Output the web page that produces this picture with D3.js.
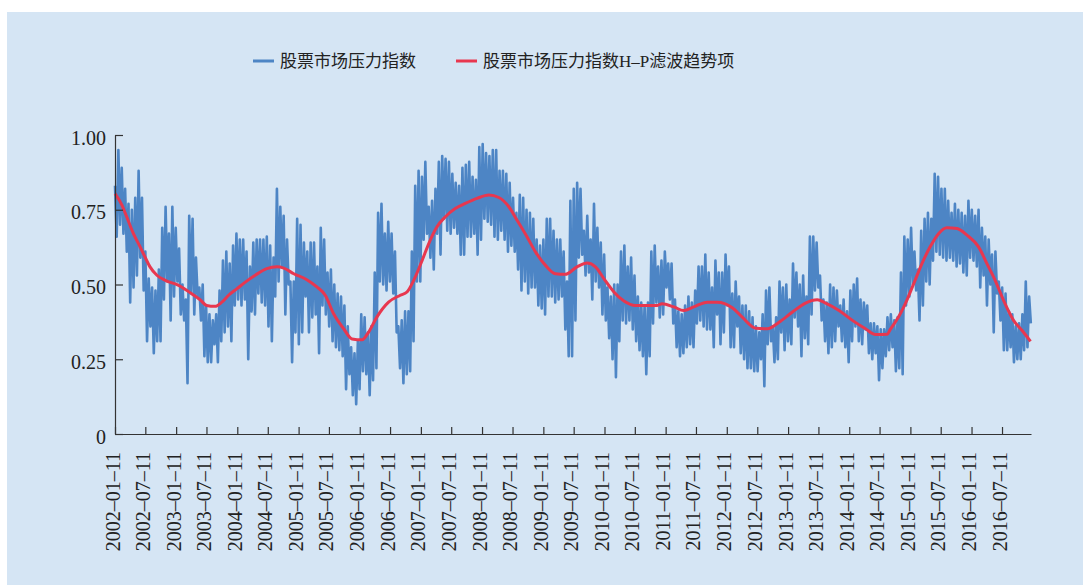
<!DOCTYPE html>
<html>
<head>
<meta charset="utf-8">
<script src="https://cdn.jsdelivr.net/npm/d3@7/dist/d3.min.js"></script>
<style>
  html, body { margin: 0; padding: 0; background: #ffffff; }
  svg { display: block; }
  .axis text { font-family: "Liberation Serif", "Times New Roman", serif; font-size: 20px; fill: #222; }
  .axis path, .axis line { stroke: #333; stroke-width: 1.2; }
  .legend text { font-family: "Liberation Serif", "Noto Sans CJK SC", serif; font-size: 17px; fill: #222; }
</style>
</head>
<body>
<svg id="chart" width="1083" height="585"></svg>
<script>
// Stock market stress index: alternating local highs / lows of the daily series
const seriesStart = "2002-01-11";
const seriesEnd = "2016-12-30";
const stressIndex = [
  0.83,0.66, 0.95,0.70, 0.89,0.67, 0.82,0.61, 0.77,0.44, 0.75,0.49, 0.79,0.53, 0.88,0.59, 0.79,0.48, 0.61,0.31,
  0.52,0.36, 0.49,0.27, 0.48,0.31, 0.55,0.31, 0.69,0.45, 0.76,0.51, 0.67,0.38, 0.76,0.46, 0.69,0.51, 0.62,0.40,
  0.50,0.38, 0.45,0.17, 0.73,0.47, 0.72,0.40, 0.59,0.46, 0.49,0.38, 0.50,0.26, 0.43,0.24, 0.40,0.24, 0.38,0.30,
  0.40,0.24, 0.48,0.31, 0.58,0.34, 0.61,0.36, 0.57,0.31, 0.63,0.43, 0.67,0.45, 0.65,0.43, 0.65,0.45, 0.61,0.25,
  0.56,0.41, 0.64,0.40, 0.65,0.47, 0.65,0.44,
  0.65,0.43, 0.66,0.36, 0.63,0.31, 0.59,0.46, 0.82,0.51, 0.76,0.56, 0.73,0.40, 0.65,0.50, 0.51,0.24, 0.51,0.34,
  0.72,0.30, 0.70,0.34, 0.64,0.46, 0.61,0.34, 0.64,0.39, 0.64,0.40, 0.56,0.27, 0.69,0.43, 0.65,0.40, 0.54,0.36,
  0.55,0.31, 0.50,0.29, 0.47,0.28, 0.46,0.26, 0.43,0.15, 0.36,0.20, 0.29,0.13, 0.27,0.10, 0.31,0.15, 0.40,0.21,
  0.39,0.20, 0.34,0.13, 0.36,0.18, 0.54,0.22, 0.74,0.51, 0.77,0.50, 0.67,0.48, 0.71,0.51, 0.67,0.47, 0.61,0.34,
  0.36,0.22, 0.38,0.17, 0.41,0.20, 0.41,0.21, 0.61,0.31, 0.83,0.51,
  0.88,0.51, 0.86,0.65, 0.91,0.67, 0.76,0.59, 0.78,0.55, 0.82,0.67, 0.91,0.60, 0.93,0.72, 0.92,0.68, 0.91,0.67,
  0.87,0.69, 0.84,0.67, 0.83,0.60, 0.89,0.60, 0.90,0.66, 0.91,0.66, 0.86,0.67, 0.85,0.60, 0.96,0.65, 0.97,0.72,
  0.94,0.71, 0.93,0.70, 0.95,0.66, 0.95,0.65, 0.88,0.68, 0.88,0.65, 0.87,0.61, 0.84,0.63, 0.79,0.61, 0.74,0.55,
  0.80,0.48, 0.79,0.51, 0.75,0.47, 0.74,0.49, 0.72,0.49, 0.65,0.43, 0.63,0.42, 0.65,0.40, 0.72,0.46, 0.72,0.46,
  0.68,0.44, 0.65,0.45, 0.65,0.46, 0.61,0.35, 0.51,0.26, 0.78,0.26,
  0.82,0.38, 0.84,0.59, 0.82,0.60, 0.68,0.53, 0.73,0.54, 0.65,0.45, 0.77,0.51, 0.69,0.49, 0.64,0.40, 0.60,0.38,
  0.49,0.32, 0.46,0.25, 0.50,0.19, 0.50,0.31, 0.61,0.38, 0.63,0.37, 0.56,0.38, 0.59,0.35, 0.53,0.31, 0.46,0.28,
  0.44,0.26, 0.43,0.20, 0.44,0.26, 0.61,0.37, 0.63,0.44, 0.56,0.39, 0.58,0.40, 0.61,0.49, 0.57,0.45, 0.57,0.37,
  0.45,0.29, 0.41,0.26, 0.40,0.27, 0.43,0.29, 0.46,0.30, 0.44,0.29, 0.48,0.37, 0.56,0.38, 0.56,0.36, 0.60,0.35,
  0.54,0.35, 0.49,0.29, 0.58,0.40, 0.54,0.30, 0.54,0.34, 0.60,0.43,
  0.56,0.29, 0.47,0.29, 0.51,0.36, 0.46,0.27, 0.43,0.25, 0.43,0.22, 0.41,0.22, 0.39,0.21, 0.36,0.21, 0.34,0.25,
  0.40,0.16, 0.48,0.30, 0.49,0.31, 0.36,0.24, 0.39,0.25, 0.51,0.34, 0.49,0.28, 0.50,0.31, 0.45,0.30, 0.57,0.39,
  0.54,0.36, 0.50,0.26, 0.53,0.32, 0.46,0.30, 0.66,0.40, 0.66,0.48, 0.64,0.49, 0.53,0.38, 0.45,0.31, 0.44,0.27,
  0.50,0.29, 0.49,0.31, 0.48,0.36, 0.43,0.31, 0.45,0.29, 0.41,0.24, 0.48,0.31, 0.50,0.36, 0.52,0.31, 0.45,0.30,
  0.44,0.35, 0.43,0.27, 0.37,0.25, 0.37,0.27, 0.36,0.18, 0.35,0.22,
  0.35,0.26, 0.39,0.28, 0.40,0.29, 0.38,0.21, 0.39,0.22, 0.54,0.20, 0.66,0.43, 0.65,0.46, 0.69,0.50, 0.61,0.48,
  0.55,0.38, 0.68,0.43, 0.72,0.51, 0.74,0.50, 0.72,0.58, 0.87,0.61, 0.86,0.60, 0.82,0.59, 0.82,0.58, 0.78,0.59,
  0.74,0.58, 0.77,0.56, 0.75,0.57, 0.74,0.54, 0.73,0.53, 0.78,0.59, 0.75,0.58, 0.73,0.56, 0.75,0.49, 0.69,0.53,
  0.66,0.43, 0.65,0.50, 0.60,0.34, 0.61,0.47, 0.51,0.38, 0.49,0.28, 0.47,0.28, 0.41,0.29, 0.40,0.24, 0.36,0.25,
  0.37,0.25, 0.40,0.28, 0.51,0.29, 0.46,0.37
];

// H-P filter trend of the stress index
const trendDates = [
  "2002-01-11","2002-02-22","2002-03-22","2002-05-01","2002-06-10","2002-07-09","2002-08-08","2002-09-18",
  "2002-11-07","2003-01-26","2003-04-14","2003-06-03","2003-07-12","2003-08-31","2003-10-11","2003-11-20",
  "2004-01-09","2004-02-28","2004-04-27","2004-07-05","2004-09-04","2004-10-14","2004-12-13","2005-03-01",
  "2005-04-30","2005-06-19","2005-08-08","2005-10-07","2005-11-26","2006-01-25","2006-03-05","2006-04-23",
  "2006-07-02","2006-09-10","2006-10-20","2006-11-29","2007-01-18","2007-02-27","2007-04-17","2007-06-05",
  "2007-08-04","2007-10-03","2007-12-12","2008-02-21","2008-04-20","2008-06-19","2008-08-07","2008-10-06",
  "2008-11-25","2009-01-24","2009-03-24","2009-05-22","2009-07-31","2009-09-29","2009-11-18","2010-01-08",
  "2010-03-08","2010-05-07","2010-07-15","2010-11-22","2010-12-21","2011-03-01","2011-04-29","2011-06-28",
  "2011-09-16","2011-11-15","2012-02-13","2012-04-12","2012-07-01","2012-09-09","2012-11-18","2013-02-06",
  "2013-04-25","2013-07-04","2013-08-23","2013-11-11","2014-01-30","2014-04-18","2014-06-17","2014-08-26",
  "2014-09-13","2014-11-01","2014-12-12","2015-01-31","2015-03-21","2015-05-09","2015-06-28","2015-08-17",
  "2015-10-16","2015-12-15","2016-02-22","2016-04-12","2016-05-31","2016-07-20","2016-09-18","2016-11-08",
  "2016-12-28"
];
const trendValues = [
  0.804,0.765,0.726,0.670,0.626,0.592,0.559,0.531,
  0.514,0.497,0.469,0.449,0.430,0.427,0.441,0.464,
  0.486,0.508,0.531,0.553,0.559,0.555,0.536,0.516,
  0.492,0.464,0.402,0.352,0.318,0.315,0.341,0.391,
  0.441,0.464,0.475,0.514,0.580,0.637,0.693,0.726,
  0.754,0.771,0.788,0.799,0.791,0.760,0.715,0.659,
  0.609,0.564,0.536,0.534,0.559,0.572,0.559,0.519,
  0.475,0.445,0.430,0.430,0.436,0.425,0.413,0.425,
  0.441,0.441,0.422,0.391,0.354,0.352,0.374,0.408,
  0.438,0.449,0.438,0.413,0.380,0.352,0.333,0.334,
  0.350,0.391,0.436,0.503,0.570,0.626,0.670,0.690,
  0.687,0.665,0.626,0.570,0.514,0.447,0.380,0.346,
  0.310
];

const yTicks = [0, 0.25, 0.5, 0.75, 1];
const yTickLabels = ["0", "0.25", "0.50", "0.75", "1.00"];
const xTickLabels = [
  "2002-01-11","2002-07-11","2003-01-11","2003-07-11","2004-01-11","2004-07-11",
  "2005-01-11","2005-07-11","2006-01-11","2006-07-11","2007-01-11","2007-07-11",
  "2008-01-11","2008-07-11","2009-01-11","2009-07-11","2010-01-11","2010-07-11",
  "2011-01-11","2011-07-11","2012-01-11","2012-07-11","2013-01-11","2013-07-11",
  "2014-01-11","2014-07-11","2015-01-11","2015-07-11","2016-01-11","2016-07-11"
];
const seriesNames = ["股票市场压力指数", "股票市场压力指数H–P滤波趋势项"];
const seriesColors = ["#4d85c5", "#e8374f"];

const parse = d3.timeParse("%Y-%m-%d");
const svg = d3.select("#chart");

// panel background
svg.append("rect").attr("x", 7).attr("y", 12).attr("width", 1076).attr("height", 573)
  .attr("fill", "#d5e5f4");

const t0 = parse(seriesStart), t1 = parse(seriesEnd);
const x = d3.scaleTime().domain([t0, parse("2016-12-31")]).range([115, 1031]);
const y = d3.scaleLinear().domain([0, 1]).range([434, 135]);

// evenly spaced sampling dates for the stress index readings
const idxToDate = d3.scaleLinear().domain([0, stressIndex.length - 1]).range([+t0, +t1]);
const stressData = stressIndex.map((v, i) => ({ date: new Date(idxToDate(i)), value: v }));
const trendData = trendDates.map((d, i) => ({ date: parse(d), value: trendValues[i] }));

svg.append("path")
  .datum(stressData)
  .attr("fill", "none")
  .attr("stroke", seriesColors[0])
  .attr("stroke-width", 2.6)
  .attr("stroke-linejoin", "round")
  .attr("d", d3.line().x(d => x(d.date)).y(d => y(d.value)));

svg.append("path")
  .datum(trendData)
  .attr("fill", "none")
  .attr("stroke", seriesColors[1])
  .attr("stroke-width", 3)
  .attr("d", d3.line().curve(d3.curveMonotoneX).x(d => x(d.date)).y(d => y(d.value)));

// y axis
const yAxis = svg.append("g").attr("class", "axis").attr("transform", "translate(115,0)")
  .call(d3.axisLeft(y).tickValues(yTicks).tickFormat((d, i) => yTickLabels[i])
    .tickSize(-8).tickSizeOuter(0).tickPadding(9));
yAxis.selectAll("text").attr("dy", "0.45em");

// x axis
const xAxis = svg.append("g").attr("class", "axis").attr("transform", "translate(0,434)")
  .call(d3.axisBottom(x).tickValues(xTickLabels.map(parse))
    .tickFormat((d, i) => xTickLabels[i].replace(/-/g, "–"))
    .tickSize(-7).tickSizeOuter(0));
xAxis.selectAll("text")
  .attr("x", 0).attr("y", 0)
  .attr("dy", "0.2em")
  .attr("text-anchor", "end")
  .attr("transform", "translate(0,18) rotate(-90)");

// legend
const legend = svg.append("g").attr("class", "legend");
const legendX = [253, 456];
seriesNames.forEach((name, i) => {
  legend.append("line")
    .attr("x1", legendX[i]).attr("x2", legendX[i] + 21)
    .attr("y1", 61).attr("y2", 61)
    .attr("stroke", seriesColors[i]).attr("stroke-width", 3);
  legend.append("text")
    .attr("x", legendX[i] + 27).attr("y", 61).attr("dy", "0.36em")
    .text(name);
});
</script>
</body>
</html>
